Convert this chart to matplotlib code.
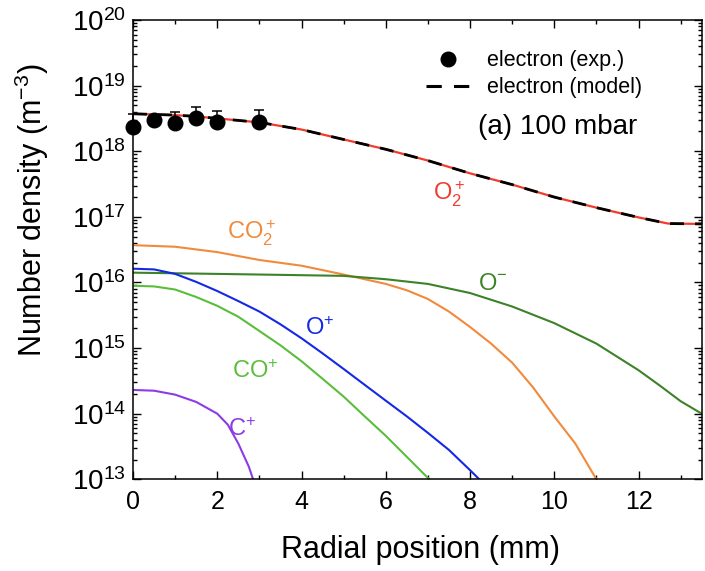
import matplotlib
matplotlib.use("Agg")
import matplotlib.pyplot as plt
from matplotlib.ticker import MultipleLocator, LogLocator, NullFormatter
from matplotlib.lines import Line2D

plt.rcParams['font.family'] = ['Liberation Sans', 'DejaVu Sans']
plt.rcParams['mathtext.fontset'] = 'custom'
plt.rcParams['mathtext.rm'] = 'Liberation Sans'
plt.rcParams['mathtext.it'] = 'Liberation Sans:italic'
plt.rcParams['mathtext.bf'] = 'Liberation Sans:bold'

# Electron density, experiment (upper error only visible)
exp_x = [0, 0.5, 1, 1.5, 2, 3]
exp_ne = [2.35e18, 3.0e18, 2.7e18, 3.2e18, 2.75e18, 2.8e18]
exp_err_up = [1.35e18, 0.5e18, 1.3e18, 1.5e18, 1.35e18, 1.4e18]
exp_err_lo = [0, 0, 0, 0, 0, 0]

# O2+ (electron model follows the same curve)
o2p_x = [0, 1, 1.5, 2, 3, 4, 5, 6, 7, 8, 9, 10, 11, 12, 12.7, 13.5]
o2p = [3.72e18, 3.55e18, 3.39e18, 3.16e18, 2.75e18, 2.14e18, 1.51e18, 1.07e18,
       7.2e17, 4.6e17, 3.1e17, 2.0e17, 1.38e17, 9.8e16, 7.9e16, 7.8e16]
model_x = o2p_x
model_ne = o2p

co2p_x = [0, 1, 2, 3, 4, 5, 5.5, 6, 6.5, 7, 7.5, 8, 8.5, 9, 9.5, 10, 10.5, 11]
co2p = [3.7e16, 3.5e16, 2.9e16, 2.2e16, 1.8e16, 1.32e16, 1.12e16, 9.5e15, 7.6e15,
        5.6e15, 3.6e15, 2.1e15, 1.17e15, 6.0e14, 2.5e14, 9.1e13, 3.5e13, 1.0e13]

om_x = [0, 1, 2, 3, 4, 5, 6, 7, 8, 9, 10, 11, 12, 12.5, 13, 13.5]
om = [1.41e16, 1.38e16, 1.35e16, 1.32e16, 1.29e16, 1.26e16, 1.12e16, 9.5e15,
      6.9e15, 4.3e15, 2.4e15, 1.17e15, 4.6e14, 2.7e14, 1.55e14, 1.0e14]

op_x = [0, 0.5, 1, 1.5, 2, 2.5, 3, 3.5, 4, 4.5, 5, 5.5, 6, 6.5, 7, 7.5, 8, 8.22]
op = [1.62e16, 1.58e16, 1.35e16, 1.02e16, 7.4e15, 5.2e15, 3.6e15, 2.3e15, 1.41e15,
      8.3e14, 4.8e14, 2.75e14, 1.58e14, 9.1e13, 5.1e13, 2.8e13, 1.38e13, 1.0e13]

cop_x = [0, 0.5, 1, 1.5, 2, 2.5, 3, 3.5, 4, 4.5, 5, 5.5, 6, 6.5, 7, 7.04]
cop = [8.9e15, 8.7e15, 7.8e15, 6.0e15, 4.4e15, 3.0e15, 1.82e15, 1.10e15, 6.3e14,
       3.4e14, 1.82e14, 9.1e13, 4.6e13, 2.2e13, 1.05e13, 1.0e13]

cp_x = [0, 0.5, 1, 1.5, 2, 2.25, 2.5, 2.75, 2.85]
cp = [2.3e14, 2.24e14, 1.95e14, 1.51e14, 1.0e14, 6.8e13, 3.5e13, 1.55e13, 1.0e13]

fig = plt.figure(figsize=(7.05, 5.71), dpi=100)
ax = fig.add_axes([0.1887, 0.1606, 0.8066, 0.8044])

ax.plot(co2p_x, co2p, color='#f08a3c', lw=1.5)
ax.plot(om_x, om, color='#3c8228', lw=1.5)
ax.plot(op_x, op, color='#1428e6', lw=1.5)
ax.plot(cop_x, cop, color='#5abe3c', lw=1.5)
ax.plot(cp_x, cp, color='#8c3ce6', lw=1.5)
ax.plot(o2p_x, o2p, color='#f03c2e', lw=1.6)
ax.plot(model_x, model_ne, color='black', lw=2.0, ls=(0, (5, 4)))
ax.errorbar(exp_x, exp_ne, yerr=[exp_err_lo, exp_err_up], fmt='o', color='black',
            ms=10.5, capsize=3.6, elinewidth=1.1, capthick=1.1, clip_on=False, zorder=5)

ax.set_yscale('log')
ax.set_xlim(0, 13.5)
ax.set_ylim(1e13, 1e20)
ax.xaxis.set_major_locator(MultipleLocator(2))
ax.xaxis.set_minor_locator(MultipleLocator(1))
ax.yaxis.set_major_locator(LogLocator(base=10, numticks=10))
ax.yaxis.set_minor_locator(LogLocator(base=10, subs=range(2, 10), numticks=20))
ax.yaxis.set_minor_formatter(NullFormatter())

ax.tick_params(which='both', direction='in', top=True, right=True, width=1.0)
ax.tick_params(which='major', length=6)
ax.tick_params(which='minor', length=3)
ax.tick_params(axis='x', which='major', labelsize=18, pad=8)
ax.tick_params(axis='y', which='major', labelsize=20, pad=5)
for sp in ax.spines.values():
    sp.set_linewidth(1.1)

ax.set_xlabel('Radial position (mm)', fontsize=22)
ax.set_ylabel('Number density (m$^{-3}$)', fontsize=22)
ax.xaxis.set_label_coords(0.505, -0.122)
ax.yaxis.set_label_coords(-0.145, 0.586)

# species labels
ax.text(7.11, 1.8e17, 'O$_2^+$', color='#f03c2e', fontsize=17)
ax.text(2.22, 4.5e16, 'CO$_2^+$', color='#f08a3c', fontsize=17)
ax.text(8.18, 7.6e15, 'O$^{-}$', color='#3c8228', fontsize=17)
ax.text(4.08, 1.58e15, 'O$^{+}$', color='#1428e6', fontsize=17)
ax.text(2.34, 3.5e14, 'CO$^{+}$', color='#5abe3c', fontsize=17)
ax.text(2.26, 4.5e13, 'C$^{+}$', color='#8c3ce6', fontsize=17)

handles = [Line2D([], [], marker='o', color='black', ls='none', ms=10.5),
           Line2D([], [], color='black', lw=2.2, ls=(0, (5, 4)))]
ax.legend(handles, ['electron (exp.)', 'electron (model)'], loc='upper left',
          bbox_to_anchor=(0.497, 0.958), frameon=False, fontsize=15.5,
          handlelength=2.0, handletextpad=0.8, labelspacing=0.3, borderpad=0)
ax.text(0.607, 0.768, '(a) 100 mbar', transform=ax.transAxes, fontsize=20,
        va='center', ha='left')

fig.savefig('out.png', dpi=100)
